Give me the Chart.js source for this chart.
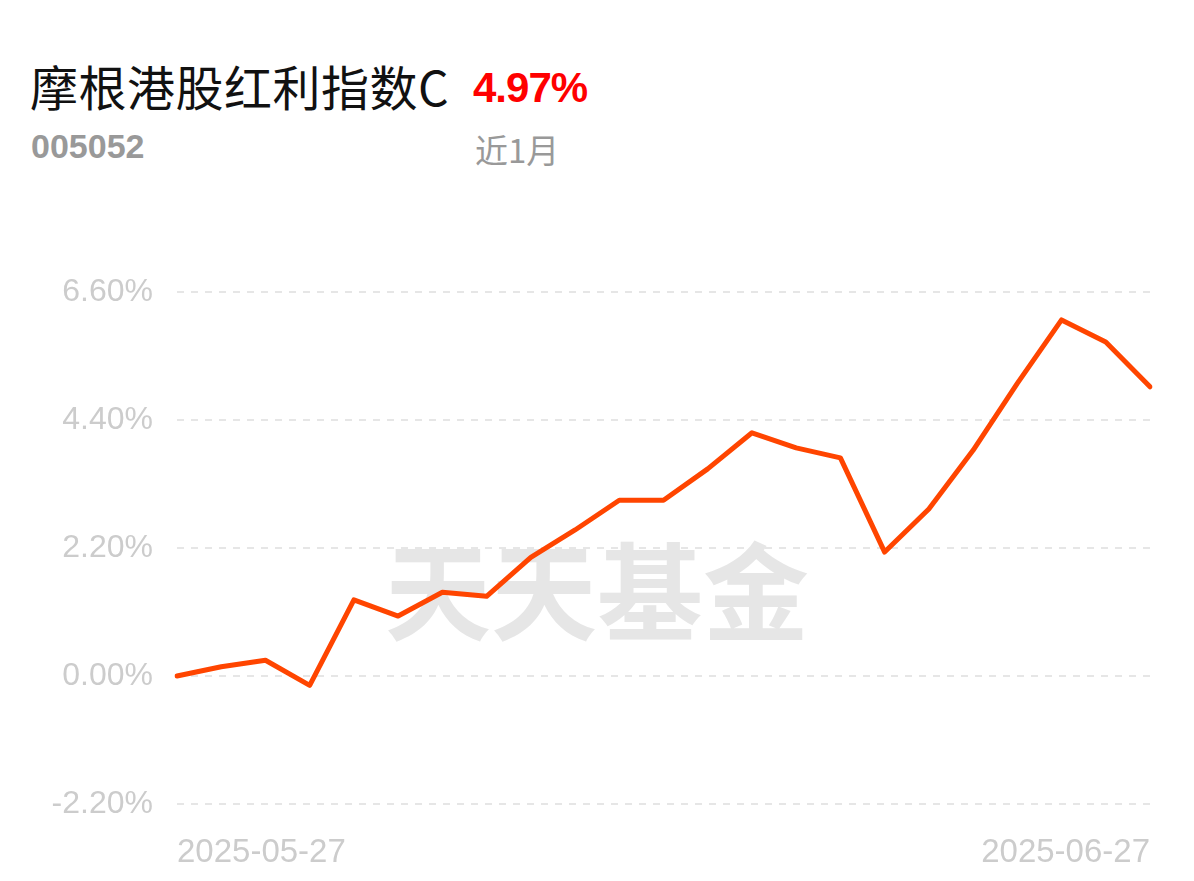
<!DOCTYPE html>
<html>
<head>
<meta charset="utf-8">
<script src="https://cdn.jsdelivr.net/npm/chart.js@4"></script>
<style>
  body { margin: 0; background: #fff; width: 1194px; height: 881px; overflow: hidden; position: relative; }
  #wrap { position: absolute; left: 0; top: 0; width: 1194px; height: 881px; }
  .t { position: absolute; white-space: nowrap; font-family: "Noto Sans CJK SC", "Liberation Sans", sans-serif; }
  #name { left: 30px; top: 55px; font-size: 48px; color: #111; line-height: 60px; letter-spacing: 0.5px; }
  #pct { left: 473px; top: 58px; font-size: 42px; color: #f00; font-weight: bold; line-height: 60px; font-family: "Liberation Sans", sans-serif; letter-spacing: -1px; }
  #code { left: 31px; top: 124px; font-size: 34px; color: #999; font-weight: bold; line-height: 44px; font-family: "Liberation Sans", sans-serif; }
  #period { left: 475px; top: 126px; font-size: 33px; color: #999; line-height: 46px; }
</style>
</head>
<body>
<div class="t" id="name">摩根港股红利指数C</div>
<div class="t" id="pct">4.97%</div>
<div class="t" id="code">005052</div>
<div class="t" id="period">近1月</div>
<div id="wrap"><canvas id="chart"></canvas></div>
<script>
// dates (trading days) and cumulative return, %
const dates = [
  "2025-05-27", "2025-05-28", "2025-05-29", "2025-05-30", "2025-06-03",
  "2025-06-04", "2025-06-05", "2025-06-06", "2025-06-09", "2025-06-10",
  "2025-06-11", "2025-06-12", "2025-06-13", "2025-06-16", "2025-06-17",
  "2025-06-18", "2025-06-19", "2025-06-20", "2025-06-23", "2025-06-24",
  "2025-06-25", "2025-06-26", "2025-06-27"
];
const returns = [
  0.00, 0.16, 0.27, -0.16, 1.31,
  1.03, 1.44, 1.37, 2.04, 2.51,
  3.02, 3.02, 3.56, 4.18, 3.92,
  3.75, 2.13, 2.87, 3.88, 5.03,
  6.12, 5.74, 4.97
];
const yTicks = [-2.2, 0, 2.2, 4.4, 6.6];

// watermark behind the line
const watermark = {
  id: "watermark",
  beforeDatasetsDraw(chart) {
    const ctx = chart.ctx;
    ctx.save();
    ctx.fillStyle = "#e6e6e6";
    ctx.font = "bold 106px 'Noto Sans CJK SC'";
    ctx.textAlign = "center";
    ctx.textBaseline = "middle";
    ctx.fillText("天天基金", 597, 592);
    ctx.restore();
  }
};

new Chart(document.getElementById("chart"), {
  type: "line",
  data: {
    labels: dates,
    datasets: [
      {
        data: returns,
        borderColor: "#ff4500",
        borderWidth: 5,
        pointRadius: 0,
        tension: 0,
        borderCapStyle: "round",
        borderJoinStyle: "round",
        fill: false,
      },
    ],
  },
  options: {
    responsive: true,
    maintainAspectRatio: false,
    animation: false,
    layout: { padding: { top: 292, right: 44, left: 0, bottom: 0 } },
    plugins: { legend: { display: false }, tooltip: { enabled: false } },
    scales: {
      x: {
        grid: { display: false },
        border: { display: false },
        afterFit: (s) => { s.height = 77; },
        ticks: {
          autoSkip: false,
          maxRotation: 0,
          align: "inner",
          padding: 21,
          color: "#cccccc",
          font: { family: "Liberation Sans", size: 33 },
          callback: function (v, i) {
            return i === 0 || i === dates.length - 1 ? dates[i] : null;
          },
        },
      },
      y: {
        min: -2.2,
        max: 6.6,
        afterFit: (s) => { s.width = 177; },
        afterBuildTicks: (s) => { s.ticks = yTicks.map((v) => ({ value: v })); },
        grid: {
          color: "#e6e6e6",
          lineWidth: 2,
          drawTicks: false,
        },
        border: { display: false, dash: [7, 7] },
        ticks: {
          padding: 24,
          color: "#cccccc",
          font: { family: "Liberation Sans", size: 32 },
          callback: (v) => v.toFixed(2) + "%",
        },
      },
    },
  },
  plugins: [watermark],
});
</script>
</body>
</html>
